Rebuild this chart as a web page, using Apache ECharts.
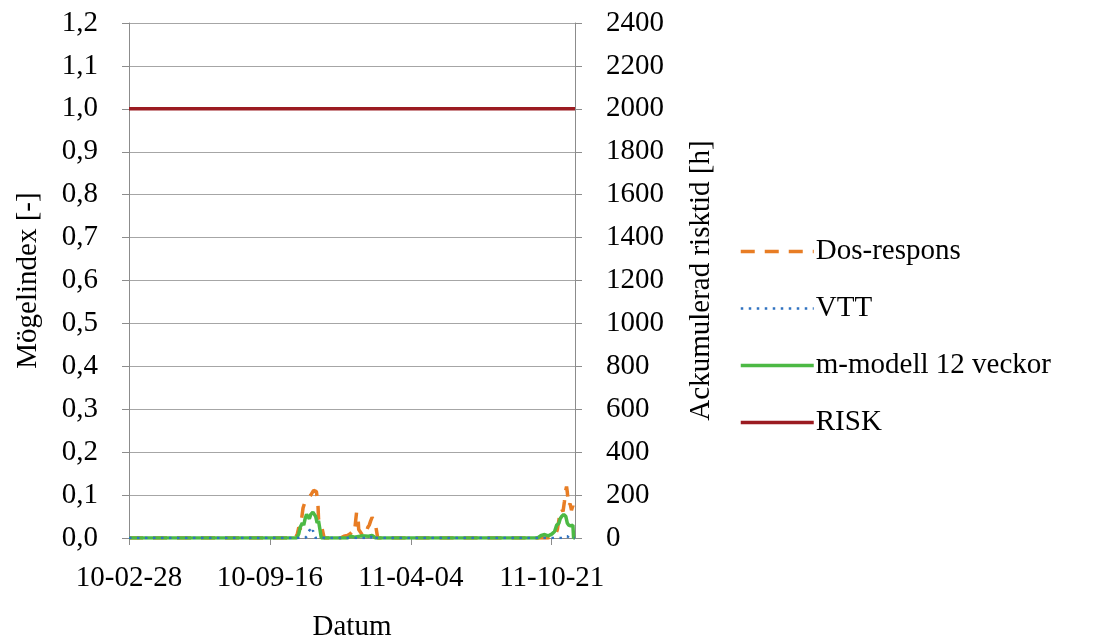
<!DOCTYPE html>
<html>
<head>
<meta charset="utf-8">
<script src="https://cdn.jsdelivr.net/npm/echarts@6/dist/echarts.min.js"></script>
<style>
  html, body { margin: 0; padding: 0; background: #fff; }
  #chart { width: 1107px; height: 642px; }
</style>
</head>
<body>
<div id="chart"></div>
<script>
// Day 0 of the time axis
const START_DATE = Date.UTC(2010, 1, 28);
const X_MAX_DAY = 633;
const X_STEP_DAYS = 200;

const seriesNames = ['Dos-respons', 'VTT', 'm-modell 12 veckor', 'RISK'];

// [days since 2010-02-28, mould index]
const dosRespons = [
  [0, 0], [236, 0], [239, 0.01], [241, 0.025], [243, 0.02], [245, 0.045], [247, 0.07],
  [249, 0.08], [252, 0.085], [254, 0.088], [256, 0.095], [258, 0.1], [260, 0.103],
  [262, 0.111], [264, 0.115], [266, 0.108], [267, 0.095], [268, 0.085], [269, 0.045],
  [271, 0.035], [273, 0.03], [275, 0.015], [277, 0],
  [300, 0], [305, 0.004], [310, 0.006], [314, 0.01], [317, 0.015], [320, 0.012],
  [322, 0.045], [323, 0.06], [324, 0.058], [325, 0.05], [326, 0.02], [328, 0.018],
  [332, 0.005], [336, 0.01], [339, 0.025], [341, 0.03], [343, 0.04], [345, 0.048],
  [347, 0.043], [349, 0.035], [351, 0.02], [353, 0],
  [595, 0], [600, 0.004], [605, 0.006], [608, 0.02], [610, 0.04], [612, 0.06],
  [614, 0.068], [616, 0.062], [618, 0.085], [619, 0.1], [620, 0.112], [621, 0.12],
  [622, 0.108], [623, 0.09], [624, 0.075], [626, 0.08], [628, 0.065], [630, 0.075],
  [632, 0.06], [633, 0.06]
];

const vtt = [
  [0, 0], [250, 0], [253, 0.005], [255, 0.015], [257, 0.02], [259, 0.012], [261, 0.018],
  [263, 0.005], [265, 0], [343, 0], [345, 0.006], [347, 0],
  [615, 0], [618, 0.004], [622, 0.004], [625, 0], [633, 0]
];

const mModell = [
  [0, 0], [238, 0], [241, 0.01], [243, 0.025], [246, 0.035], [248, 0.03], [250, 0.045],
  [252, 0.055], [254, 0.058], [256, 0.045], [258, 0.055], [261, 0.06], [263, 0.055],
  [265, 0.05], [267, 0.035], [269, 0.04], [271, 0.02], [273, 0],
  [310, 0], [315, 0.004], [320, 0.002], [330, 0.005], [340, 0.004], [345, 0.006], [350, 0],
  [580, 0], [585, 0.006], [590, 0.008], [595, 0.005], [600, 0.009], [604, 0.015],
  [607, 0.03], [610, 0.034], [612, 0.045], [614, 0.05], [617, 0.055], [620, 0.05],
  [622, 0.035], [624, 0.03], [627, 0.028], [630, 0.03], [631, 0], [633, 0]
];

const riskLevel = [[0, 1.0], [X_MAX_DAY, 1.0]];

const leftTicks = { min: 0, max: 1.2, step: 0.1 };
const rightTicks = { min: 0, max: 2400, step: 200 };

const FONT = '"Liberation Serif", "Times New Roman", serif';
const TEXT = '#000';
const AXIS_GREY = '#8c8c8c';
const FS = 29;

const COLORS = ['#e87d24', '#2f72c0', '#4cb944', '#9b1b21'];
const WIDTHS = [3.5, 2.5, 3.5, 3.5];
const DASHES = [[14, 10], [2.5, 5.5], 'solid', 'solid'];

function fmtDate(days) {
  const d = new Date(START_DATE + Math.round(days) * 86400000);
  const yy = String(d.getUTCFullYear() % 100).padStart(2, '0');
  const mm = String(d.getUTCMonth() + 1).padStart(2, '0');
  const dd = String(d.getUTCDate()).padStart(2, '0');
  return yy + '-' + mm + '-' + dd;
}

function lineStyleOf(i) {
  return { color: COLORS[i], width: WIDTHS[i], type: DASHES[i] };
}

const chart = echarts.init(document.getElementById('chart'), null, { renderer: 'canvas' });

chart.setOption({
  animation: false,
  backgroundColor: '#fff',
  textStyle: { fontFamily: FONT, color: TEXT },
  grid: {
    left: 129, right: 532, top: 23, bottom: 104,
    containLabel: false,
    outerBoundsMode: 'none'
  },
  legend: {
    orient: 'vertical',
    left: 734,
    top: 232,
    itemWidth: 73,
    itemHeight: 2,
    itemGap: 28,
    data: seriesNames.map((name, i) => ({ name, lineStyle: lineStyleOf(i) })),
    itemStyle: { opacity: 0 },
    textStyle: { fontFamily: FONT, fontSize: FS, color: TEXT, padding: [0, 0, 0, -3] }
  },
  xAxis: {
    type: 'value',
    min: 0,
    max: X_MAX_DAY,
    interval: X_STEP_DAYS,
    name: 'Datum',
    nameLocation: 'middle',
    nameGap: 75,
    nameTextStyle: { fontFamily: FONT, fontSize: FS, color: TEXT },
    axisLine: { show: true, onZero: false, lineStyle: { color: AXIS_GREY, width: 1 } },
    axisTick: { show: true, inside: false, length: 7, lineStyle: { color: AXIS_GREY } },
    axisLabel: {
      margin: 26,
      fontFamily: FONT, fontSize: FS, color: TEXT,
      showMaxLabel: false,
      formatter: fmtDate
    },
    splitLine: { show: false }
  },
  yAxis: [
    {
      type: 'value',
      position: 'left',
      min: leftTicks.min,
      max: leftTicks.max,
      interval: leftTicks.step,
      name: 'Mögelindex [-]',
      nameLocation: 'middle',
      nameGap: 86,
      nameRotate: 90,
      nameTextStyle: { fontFamily: FONT, fontSize: FS, color: TEXT },
      axisLine: { show: true, lineStyle: { color: AXIS_GREY, width: 1 } },
      axisTick: { show: true, inside: false, length: 7, lineStyle: { color: AXIS_GREY } },
      axisLabel: {
        margin: 31,
        fontFamily: FONT, fontSize: FS, color: TEXT,
        formatter: v => v.toFixed(1).replace('.', ',')
      },
      splitLine: { show: true, lineStyle: { color: '#a6a6a6', width: 1 } }
    },
    {
      type: 'value',
      position: 'right',
      min: rightTicks.min,
      max: rightTicks.max,
      interval: rightTicks.step,
      name: 'Ackumulerad risktid [h]',
      nameLocation: 'middle',
      nameGap: 112,
      nameRotate: 90,
      nameTextStyle: { fontFamily: FONT, fontSize: FS, color: TEXT },
      axisLine: { show: true, lineStyle: { color: AXIS_GREY, width: 1 } },
      axisTick: { show: true, inside: false, length: 7, lineStyle: { color: AXIS_GREY } },
      axisLabel: {
        margin: 31, fontFamily: FONT, fontSize: FS, color: TEXT,
        formatter: v => String(Math.round(v))
      },
      splitLine: { show: false }
    }
  ],
  series: [
    { name: seriesNames[0], type: 'line', yAxisIndex: 0, data: dosRespons, symbol: 'none', z: 2, color: COLORS[0], lineStyle: lineStyleOf(0) },
    { name: seriesNames[1], type: 'line', yAxisIndex: 0, data: vtt, symbol: 'none', z: 4, color: COLORS[1], lineStyle: lineStyleOf(1) },
    { name: seriesNames[2], type: 'line', yAxisIndex: 0, data: mModell, symbol: 'none', z: 3, color: COLORS[2], lineStyle: lineStyleOf(2) },
    { name: seriesNames[3], type: 'line', yAxisIndex: 0, data: riskLevel, symbol: 'none', z: 5, color: COLORS[3], lineStyle: lineStyleOf(3) }
  ]
});
</script>
</body>
</html>
